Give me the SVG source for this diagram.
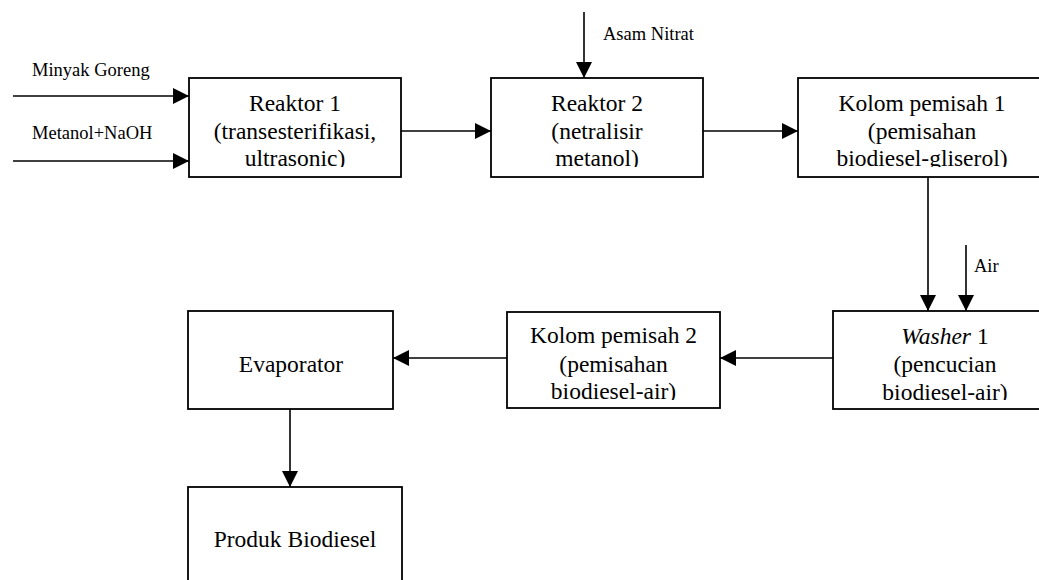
<svg xmlns="http://www.w3.org/2000/svg" width="1039" height="580" viewBox="0 0 1039 580">
<style>
.box{fill:#fff;stroke:#000;stroke-width:1.8}
.ln{stroke:#000;stroke-width:1.6;fill:none}
</style>
<defs>
<marker id="ah" viewBox="0 0 16 16" refX="16" refY="8" markerWidth="16" markerHeight="16" markerUnits="userSpaceOnUse" orient="auto">
<path d="M0,0 L16,8 L0,16 Z" fill="#000"/>
</marker>
<clipPath id="c1"><rect x="189" y="78" width="212" height="89"/></clipPath>
<clipPath id="c2"><rect x="491" y="78" width="212" height="89"/></clipPath>
<clipPath id="c3"><rect x="798" y="78" width="248" height="89"/></clipPath>
<clipPath id="c4"><rect x="833" y="311" width="224" height="89"/></clipPath>
<clipPath id="c5"><rect x="507" y="312" width="213" height="88"/></clipPath>
</defs>
<rect width="1039" height="580" fill="#fff"/>
<g id="connectors">
<line class="ln" x1="13" y1="96" x2="189" y2="96" marker-end="url(#ah)"/>
<line class="ln" x1="13" y1="161" x2="189" y2="161" marker-end="url(#ah)"/>
<line class="ln" x1="401" y1="131" x2="491" y2="131" marker-end="url(#ah)"/>
<line class="ln" x1="584" y1="12" x2="584" y2="78" marker-end="url(#ah)"/>
<line class="ln" x1="703" y1="131" x2="798" y2="131" marker-end="url(#ah)"/>
<line class="ln" x1="928" y1="177" x2="928" y2="311" marker-end="url(#ah)"/>
<line class="ln" x1="966" y1="245" x2="966" y2="311" marker-end="url(#ah)"/>
<line class="ln" x1="833" y1="358" x2="720" y2="358" marker-end="url(#ah)"/>
<line class="ln" x1="507" y1="358" x2="393" y2="358" marker-end="url(#ah)"/>
<line class="ln" x1="290" y1="409" x2="290" y2="487" marker-end="url(#ah)"/>
<g font-family="'Liberation Serif', 'Times New Roman', serif" font-size="18.5" fill="#000">
<text x="32" y="76">Minyak Goreng</text>
<text x="32" y="139">Metanol+NaOH</text>
<text x="603" y="40">Asam Nitrat</text>
<text x="974" y="272">Air</text>
</g>
</g>
<g font-family="'Liberation Serif', 'Times New Roman', serif" font-size="23.5" fill="#000" text-anchor="middle">
<g id="reaktor1">
<rect class="box" x="189" y="78" width="212" height="99"/>
<g clip-path="url(#c1)">
<text x="295" y="111">Reaktor 1</text>
<text x="295" y="138.5">(transesterifikasi,</text>
<text x="295" y="166">ultrasonic)</text>
</g>
</g>
<g id="reaktor2">
<rect class="box" x="491" y="78" width="212" height="99"/>
<g clip-path="url(#c2)">
<text x="597" y="111">Reaktor 2</text>
<text x="597" y="138.5">(netralisir</text>
<text x="597" y="166">metanol)</text>
</g>
</g>
<g id="kolom1">
<rect class="box" x="798" y="78" width="248" height="99"/>
<g clip-path="url(#c3)">
<text x="922" y="111">Kolom pemisah 1</text>
<text x="922" y="138.5">(pemisahan</text>
<text x="922" y="166">biodiesel-gliserol)</text>
</g>
</g>
<g id="washer1">
<rect class="box" x="833" y="311" width="224" height="98"/>
<g clip-path="url(#c4)">
<text x="945" y="344"><tspan font-style="italic">Washer</tspan> 1</text>
<text x="945" y="372">(pencucian</text>
<text x="945" y="400">biodiesel-air)</text>
</g>
</g>
<g id="kolom2">
<rect class="box" x="507" y="312" width="213" height="96"/>
<g clip-path="url(#c5)">
<text x="613.5" y="343">Kolom pemisah 2</text>
<text x="613.5" y="371.5">(pemisahan</text>
<text x="613.5" y="399">biodiesel-air)</text>
</g>
</g>
<g id="evaporator">
<rect class="box" x="188" y="311" width="205" height="98"/>
<text x="291" y="372">Evaporator</text>
</g>
<g id="produk">
<rect class="box" x="188" y="487" width="214" height="110"/>
<text x="295" y="547">Produk Biodiesel</text>
</g>
</g>
</svg>
